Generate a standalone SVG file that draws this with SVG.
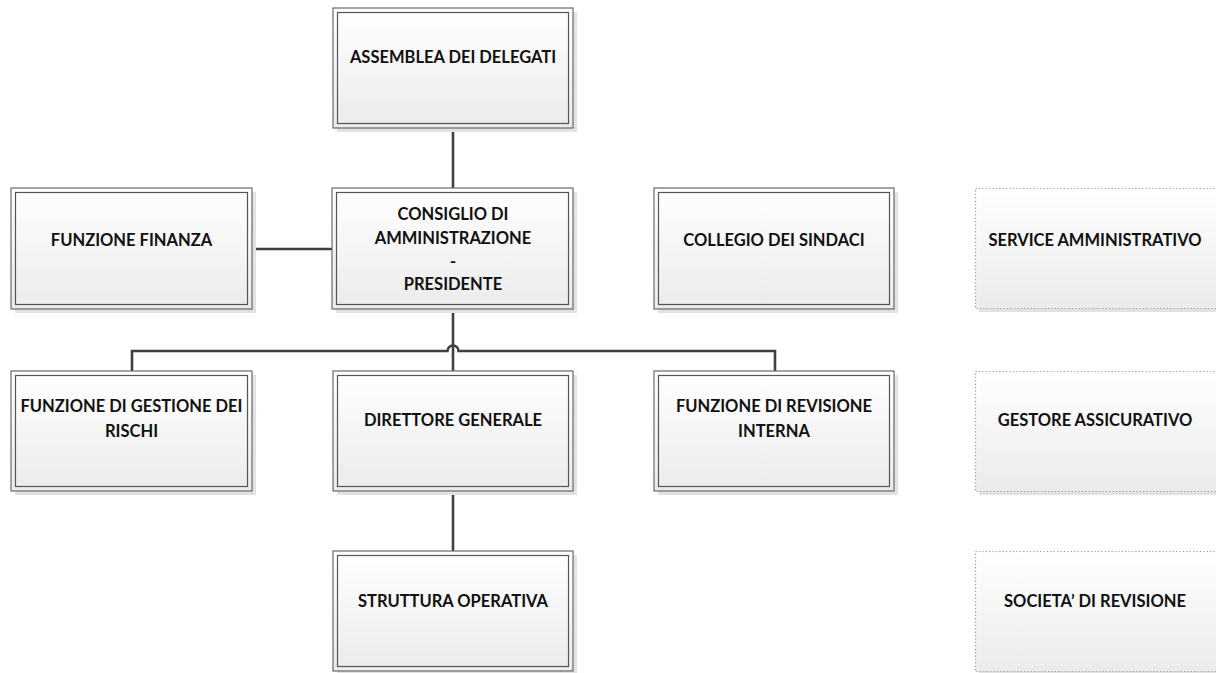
<svg xmlns="http://www.w3.org/2000/svg" width="1216" height="673" viewBox="0 0 1216 673">
<defs>
<linearGradient id="g" x1="0" y1="0" x2="0" y2="1">
<stop offset="0" stop-color="#ffffff"/>
<stop offset="1" stop-color="#ebebeb"/>
</linearGradient>
<style>
.sh{fill:#e2e2e2}
.o{fill:url(#g);stroke:#6a6a6a;stroke-width:1.2}
.i{fill:none;stroke:#555;stroke-width:1.2}
.d{fill:url(#g);stroke:#9a9a9a;stroke-width:1.2;stroke-dasharray:1.2 2.2}
.t{font-family:Lato,"Liberation Sans",Arial,sans-serif;font-weight:bold;font-size:16.5px;fill:#111;text-anchor:middle}
.c{fill:none;stroke:#404040;stroke-width:2.6}
</style>
</defs>
<rect width="1216" height="673" fill="#fff"/>
<g id="connectors">
<path class="c" d="M453,128 V188"/>
<path class="c" d="M252,249 H332"/>
<path class="c" d="M453,309 V371"/>
<path class="c" d="M132,371 V351 H447.5 a5.5,5.5 0 0 1 11,0 H775 V371"/>
<path class="c" d="M453,491 V551"/>
</g>
<g id="assemblea">
<rect class="sh" x="337" y="12" width="240" height="120"/>
<rect class="o" x="333" y="8" width="240" height="120"/>
<rect class="i" x="337.5" y="12.5" width="231" height="111"/>
<text class="t" x="453" y="63">ASSEMBLEA DEI DELEGATI</text>
</g>
<g id="finanza">
<rect class="sh" x="15" y="192" width="241" height="121"/>
<rect class="o" x="11" y="188" width="241" height="121"/>
<rect class="i" x="15.5" y="192.5" width="232" height="112"/>
<text class="t" x="131.5" y="246">FUNZIONE FINANZA</text>
</g>
<g id="consiglio">
<rect class="sh" x="336" y="192" width="241" height="121"/>
<rect class="o" x="332" y="188" width="241" height="121"/>
<rect class="i" x="336.5" y="192.5" width="232" height="112"/>
<text class="t" x="453" y="220">CONSIGLIO DI</text>
<text class="t" x="453" y="244">AMMINISTRAZIONE</text>
<text class="t" x="453" y="267">-</text>
<text class="t" x="453" y="290">PRESIDENTE</text>
</g>
<g id="collegio">
<rect class="sh" x="658" y="192" width="240" height="121"/>
<rect class="o" x="654" y="188" width="240" height="121"/>
<rect class="i" x="658.5" y="192.5" width="231" height="112"/>
<text class="t" x="774" y="246">COLLEGIO DEI SINDACI</text>
</g>
<g id="service">
<rect class="sh" x="979" y="192" width="241" height="120"/>
<rect class="d" x="975.5" y="188.5" width="242" height="120"/>
<text class="t" x="1095" y="246">SERVICE AMMINISTRATIVO</text>
</g>
<g id="gestione-rischi">
<rect class="sh" x="15" y="375" width="241" height="120"/>
<rect class="o" x="11" y="371" width="241" height="120"/>
<rect class="i" x="15.5" y="375.5" width="232" height="111"/>
<text class="t" x="131.5" y="412">FUNZIONE DI GESTIONE DEI</text>
<text class="t" x="131.5" y="436.5">RISCHI</text>
</g>
<g id="direttore">
<rect class="sh" x="337" y="375" width="240" height="120"/>
<rect class="o" x="333" y="371" width="240" height="120"/>
<rect class="i" x="337.5" y="375.5" width="231" height="111"/>
<text class="t" x="453" y="426">DIRETTORE GENERALE</text>
</g>
<g id="revisione">
<rect class="sh" x="658" y="375" width="240" height="120"/>
<rect class="o" x="654" y="371" width="240" height="120"/>
<rect class="i" x="658.5" y="375.5" width="231" height="111"/>
<text class="t" x="774" y="412">FUNZIONE DI REVISIONE</text>
<text class="t" x="774" y="436.5">INTERNA</text>
</g>
<g id="gestore">
<rect class="sh" x="979" y="375" width="241" height="120"/>
<rect class="d" x="975.5" y="371.5" width="242" height="120"/>
<text class="t" x="1095" y="426">GESTORE ASSICURATIVO</text>
</g>
<g id="struttura">
<rect class="sh" x="337" y="555" width="240" height="120"/>
<rect class="o" x="333" y="551" width="240" height="120"/>
<rect class="i" x="337.5" y="555.5" width="231" height="111"/>
<text class="t" x="453" y="607">STRUTTURA OPERATIVA</text>
</g>
<g id="societa">
<rect class="sh" x="979" y="555" width="241" height="120"/>
<rect class="d" x="975.5" y="551.5" width="242" height="120"/>
<text class="t" x="1095" y="607">SOCIETA’ DI REVISIONE</text>
</g>
</svg>
